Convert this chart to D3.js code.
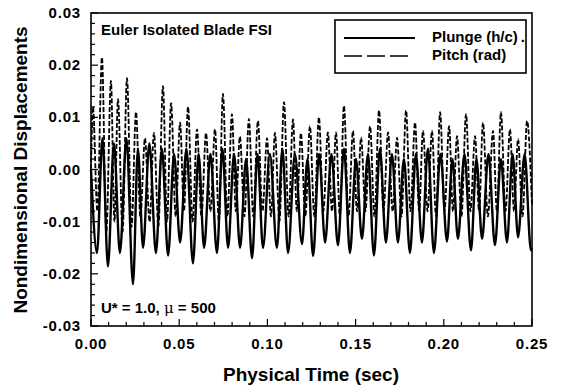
<!DOCTYPE html>
<html>
<head>
<meta charset="utf-8">
<script src="https://cdn.jsdelivr.net/npm/d3@7"></script>
<style>
  body { margin: 0; background: #fff; }
  svg { font-family: "Liberation Sans", Arial, sans-serif; }
</style>
</head>
<body>
<div id="chart"></div>
<script>
// time in ms, read at the peaks and troughs of each curve
const plungeTime = [0, 3.4, 6.5, 9.6, 13.0, 16.4, 20.1, 23.8, 26.6, 29.5, 33.1, 36.8, 40.2, 43.7, 47.1, 50.5, 54.1, 57.8, 61.0, 64.1,
  67.7, 71.4, 74.5, 77.7, 81.1, 84.5, 87.9, 91.3, 94.4, 97.5, 101.4, 105.4, 108.5, 111.7, 115.6, 119.6, 122.7, 125.9, 129.3, 132.7,
  136.3, 140.0, 143.4, 146.8, 150.2, 153.6, 157.0, 160.4, 163.8, 167.2, 170.6, 174.0, 177.4, 180.8, 184.2, 187.6, 191.0, 194.4, 198.1, 201.8,
  204.9, 208.0, 211.7, 215.4, 218.5, 221.7, 225.3, 229.0, 232.4, 235.8, 239.0, 242.1, 245.8, 249.4, 250.0];
const plungeValue = [0.000, -0.016, 0.006, -0.0186, 0.005, -0.016, 0.006, -0.022, 0.004, -0.015, 0.005, -0.016, 0.004, -0.0165, 0.003, -0.014, 0.004, -0.018, 0.003, -0.015,
  0.003, -0.016, 0.004, -0.015, 0.003, -0.015, 0.002, -0.017, 0.003, -0.015, 0.003, -0.015, 0.004, -0.016, 0.003, -0.0143, 0.002, -0.0166, 0.003, -0.014,
  0.003, -0.0145, 0.004, -0.016, 0.002, -0.0133, 0.003, -0.0165, 0.004, -0.014, 0.003, -0.014, 0.002, -0.016, 0.003, -0.014, 0.004, -0.016, 0.003, -0.0138,
  0.002, -0.0133, 0.003, -0.0155, 0.002, -0.0133, 0.003, -0.0145, 0.002, -0.014, 0.003, -0.013, 0.003, -0.0155, -0.015];

const pitchTime = [0, 1.1, 3.6, 6.2, 8.7, 11.3, 13.3, 15.3, 17.9, 20.4, 23.0, 25.5, 28.0, 30.6, 33.2, 35.7, 38.2, 40.8, 43.1, 45.4,
  48.0, 50.5, 52.7, 55.0, 57.6, 60.1, 62.6, 65.2, 67.7, 70.3, 72.5, 74.8, 77.3, 79.9, 82.1, 84.4, 87.0, 89.5, 92.0, 94.6,
  97.2, 99.8, 102.0, 104.3, 106.8, 109.4, 112.0, 114.5, 116.7, 119.0, 121.5, 124.1, 126.6, 129.2, 131.7, 134.3, 136.6, 138.9, 141.1, 143.4,
  146.0, 148.5, 150.8, 153.1, 155.6, 158.2, 160.7, 163.3, 165.8, 168.4, 171.0, 173.5, 176.0, 178.6, 181.1, 183.7, 186.0, 188.2, 190.8, 193.3,
  195.6, 197.9, 200.4, 203.0, 205.2, 207.5, 210.0, 212.6, 215.1, 217.7, 220.0, 222.2, 225.0, 227.9, 230.1, 232.4, 235.0, 237.5, 239.8, 242.1,
  244.6, 247.2, 250.0];
const pitchValue = [0.000, 0.012, -0.008, 0.0215, -0.012, 0.017, -0.010, 0.0135, -0.012, 0.0175, -0.011, 0.011, -0.009, 0.006, -0.010, 0.007, -0.011, 0.016, -0.010, 0.0127,
  -0.009, 0.009, -0.008, 0.012, -0.010, 0.0077, -0.009, 0.007, -0.008, 0.0077, -0.010, 0.0145, -0.009, 0.0106, -0.008, 0.0063, -0.009, 0.0097, -0.009, 0.0093,
  -0.008, 0.006, -0.009, 0.007, -0.010, 0.0129, -0.009, 0.0096, -0.008, 0.007, -0.009, 0.0083, -0.009, 0.010, -0.008, 0.0071, -0.008, 0.0071, -0.009, 0.0122,
  -0.009, 0.0074, -0.008, 0.0061, -0.008, 0.0083, -0.009, 0.0113, -0.008, 0.0071, -0.008, 0.0061, -0.009, 0.0113, -0.008, 0.009, -0.008, 0.0074, -0.008, 0.0074,
  -0.009, 0.011, -0.008, 0.0083, -0.008, 0.0064, -0.009, 0.0106, -0.008, 0.0064, -0.008, 0.009, -0.009, 0.0074, -0.008, 0.011, -0.008, 0.0077, -0.008, 0.0058,
  -0.009, 0.0093, -0.007];

const xTicks = [0.00, 0.05, 0.10, 0.15, 0.20, 0.25];
const yTicks = [-0.03, -0.02, -0.01, 0.00, 0.01, 0.02, 0.03];

const width = 562, height = 390;
const plotLeft = 91, plotRight = 532, plotTop = 13, plotBottom = 326;

const svg = d3.select("#chart").append("svg")
    .attr("width", width)
    .attr("height", height);

const x = d3.scaleLinear().domain([0, 0.25]).range([plotLeft, plotRight]);
const y = d3.scaleLinear().domain([-0.03, 0.03]).range([plotBottom, plotTop]);

// frame
svg.append("rect")
    .attr("x", plotLeft).attr("y", plotTop)
    .attr("width", plotRight - plotLeft).attr("height", plotBottom - plotTop)
    .attr("fill", "none").attr("stroke", "#000").attr("stroke-width", 1.6);

// ticks pointing inward, longer at the labelled values
const xMinor = d3.range(0, 26).map(i => i / 100);
svg.append("g").selectAll("line").data(xMinor).enter().append("line")
    .attr("x1", d => x(d)).attr("x2", d => x(d))
    .attr("y1", plotBottom).attr("y2", d => plotBottom - (Math.round(d * 100) % 5 === 0 ? 7 : 4))
    .attr("stroke", "#000").attr("stroke-width", 1.2);

const yMinor = d3.range(-15, 16).map(i => i / 500);
svg.append("g").selectAll("line").data(yMinor).enter().append("line")
    .attr("x1", plotLeft).attr("x2", d => plotLeft + (Math.round(d * 500) % 5 === 0 ? 7 : 4))
    .attr("y1", d => y(d)).attr("y2", d => y(d))
    .attr("stroke", "#000").attr("stroke-width", 1.2);

// tick labels
svg.append("g").selectAll("text").data(xTicks).enter().append("text")
    .attr("x", d => x(d)).attr("y", 349)
    .attr("text-anchor", "middle")
    .attr("font-size", 15).attr("font-weight", "bold").attr("letter-spacing", 0.8)
    .text(d => d.toFixed(2));

svg.append("g").selectAll("text").data(yTicks).enter().append("text")
    .attr("x", 81).attr("y", d => y(d) + 5)
    .attr("text-anchor", "end")
    .attr("font-size", 15).attr("font-weight", "bold").attr("letter-spacing", 0.8)
    .text(d => d.toFixed(2));

// axis titles
svg.append("text")
    .attr("x", 311).attr("y", 381)
    .attr("text-anchor", "middle")
    .attr("font-size", 19).attr("font-weight", "bold")
    .text("Physical Time (sec)");

svg.append("text")
    .attr("transform", "translate(27,170) rotate(-90)")
    .attr("text-anchor", "middle")
    .attr("font-size", 19).attr("font-weight", "bold")
    .text("Nondimensional Displacements");

// curves
const plunge = plungeTime.map((t, i) => ({ t: t / 1000, v: plungeValue[i] }));
const pitch = pitchTime.map((t, i) => ({ t: t / 1000, v: pitchValue[i] }));

const line = d3.line()
    .x(d => x(d.t))
    .y(d => y(d.v))
    .curve(d3.curveMonotoneX);

svg.append("path").datum(pitch)
    .attr("d", line)
    .attr("fill", "none").attr("stroke", "#000")
    .attr("stroke-width", 1.8).attr("stroke-dasharray", "5,2");

svg.append("path").datum(plunge)
    .attr("d", line)
    .attr("fill", "none").attr("stroke", "#000")
    .attr("stroke-width", 2.4);

// annotations
svg.append("text")
    .attr("x", 101).attr("y", 35)
    .attr("font-size", 15).attr("font-weight", "bold")
    .text("Euler Isolated Blade FSI");

const ann = svg.append("text")
    .attr("x", 101).attr("y", 313)
    .attr("font-size", 15).attr("font-weight", "bold");
ann.append("tspan").text("U* = 1.0,  ");
ann.append("tspan").attr("font-weight", "normal").attr("font-family", "DejaVu Serif").text("\u03bc");
ann.append("tspan").text(" = 500");

// legend
const lg = svg.append("g");
lg.append("rect")
    .attr("x", 335).attr("y", 20).attr("width", 191).attr("height", 53)
    .attr("fill", "#fff").attr("stroke", "#000").attr("stroke-width", 1.6);
lg.append("line")
    .attr("x1", 344).attr("x2", 415).attr("y1", 38).attr("y2", 38)
    .attr("stroke", "#000").attr("stroke-width", 1.8);
lg.append("line")
    .attr("x1", 344).attr("x2", 408).attr("y1", 56).attr("y2", 56)
    .attr("stroke", "#000").attr("stroke-width", 1.4).attr("stroke-dasharray", "18,5");
const lt = lg.append("text")
    .attr("x", 432).attr("y", 42)
    .attr("font-size", 15).attr("font-weight", "bold");
lt.append("tspan").text("Plunge (h/c)");
lt.append("tspan").attr("dx", 3).text(".");
lg.append("text")
    .attr("x", 432).attr("y", 60)
    .attr("font-size", 15).attr("font-weight", "bold")
    .text("Pitch (rad)");
</script>
</body>
</html>
